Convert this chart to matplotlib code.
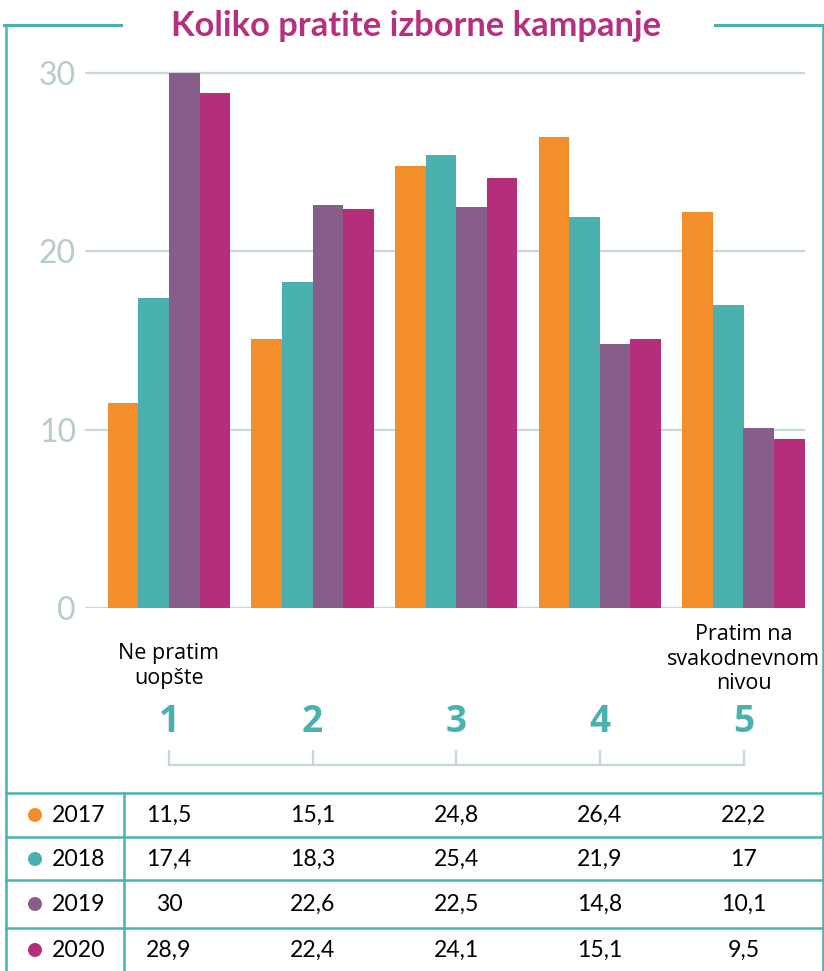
import matplotlib
matplotlib.use("Agg")
import matplotlib.pyplot as plt
import numpy as np
from matplotlib.lines import Line2D
from matplotlib.patches import Ellipse
from matplotlib.transforms import blended_transform_factory

# ---------------- data ----------------
title = "Koliko pratite izborne kampanje"
categories = ["1", "2", "3", "4", "5"]
cat_labels = ["Ne pratim\nuopšte", "", "", "", "Pratim na\nsvakodnevnom\nnivou"]
years = ["2017", "2018", "2019", "2020"]
v2017 = [11.5, 15.1, 24.8, 26.4, 22.2]
v2018 = [17.4, 18.3, 25.4, 21.9, 17]
v2019 = [30, 22.6, 22.5, 14.8, 10.1]
v2020 = [28.9, 22.4, 24.1, 15.1, 9.5]
yticks = [0, 10, 20, 30]

series = [v2017, v2018, v2019, v2020]
colors = ["#F38F2B", "#4AB1AE", "#875E8A", "#B52E7B"]
TEAL = "#4AB1AE"
GRID = "#C6D9D6"
TICKC = "#B5CDC8"
TITLEC = "#B7307F"

W, H = 824, 971
fig = plt.figure(figsize=(W / 100, H / 100), dpi=100)

def fx(x):
    return x / W

def fy(y):
    return 1 - y / H

def px2pt(p):
    return p * 0.72

LATO = ["Lato", "DejaVu Sans"]
OPEN = ["Open Sans", "DejaVu Sans"]

# ---------------- main axes ----------------
ax_l, ax_r, ax_b, ax_t = 85, 805, 608, 40
ax = fig.add_axes([fx(ax_l), fy(ax_b), fx(ax_r - ax_l), (ax_b - ax_t) / H])
ax.patch.set_alpha(0)
unit = (608 - 73) / 30.0
ax.set_ylim(0, (ax_b - ax_t) / unit)
spacing = (743.5 - 169) / 4
ax.set_xlim(-(169 - ax_l) / spacing, 4 + (ax_r - 743.5) / spacing)

x = np.arange(len(categories))
bw = 30.6 / spacing
for i, (vals, c) in enumerate(zip(series, colors)):
    ax.bar(x + (i - 1.5) * bw, vals, width=bw, color=c, zorder=3, linewidth=0)

ax.set_yticks(yticks)
ax.set_yticklabels([str(t) for t in yticks], fontsize=px2pt(32), color=TICKC,
                   family=LATO)
ax.tick_params(axis="y", length=0, pad=px2pt(9))
ax.set_xticks([])
ax.yaxis.grid(True, color=GRID, linewidth=1.6, zorder=0)
for s in ax.spines.values():
    s.set_visible(False)

bt = blended_transform_factory(ax.transData, fig.transFigure)

# category descriptive labels
ax.text(0, fy(666), cat_labels[0], transform=bt, ha="center", va="center",
        fontsize=px2pt(21.5), family=OPEN, linespacing=1.2)
ax.text(4, fy(659), cat_labels[4], transform=bt, ha="center", va="center",
        fontsize=px2pt(21.5), family=OPEN, linespacing=1.2)

# big numbers
for xi, c in zip(x, categories):
    ax.text(xi, fy(722), c, transform=bt, ha="center", va="center",
            fontsize=px2pt(37), color=TEAL, fontweight="bold", family=OPEN)

# bracket scale
fig.add_artist(Line2D([0, 4], [fy(765), fy(765)], transform=bt, color=GRID, lw=1.6))
for xi in x:
    fig.add_artist(Line2D([xi, xi], [fy(751), fy(765)], transform=bt, color=GRID, lw=1.6))

# ---------------- frame ----------------
fl = 1.8
fig.add_artist(Line2D([fx(6), fx(6)], [fy(25), 0], transform=fig.transFigure, color=TEAL, lw=fl))
fig.add_artist(Line2D([fx(822.5), fx(822.5)], [fy(25), 0], transform=fig.transFigure, color=TEAL, lw=fl))
fig.add_artist(Line2D([fx(4), fx(121)], [fy(25.5), fy(25.5)], transform=fig.transFigure, color=TEAL, lw=2.2))
fig.add_artist(Line2D([fx(715), 1], [fy(25.5), fy(25.5)], transform=fig.transFigure, color=TEAL, lw=2.2))

fig.text(fx(416), fy(36), title, ha="center", va="baseline", color=TITLEC,
         fontsize=px2pt(34.5), fontweight="bold", family=LATO)

# ---------------- table ----------------
for yy in [793, 837, 880, 928]:
    fig.add_artist(Line2D([fx(6), fx(822.5)], [fy(yy), fy(yy)], transform=fig.transFigure,
                          color=TEAL, lw=fl))
fig.add_artist(Line2D([fx(124), fx(124)], [fy(793), 0], transform=fig.transFigure, color=TEAL, lw=fl))

row_y = [815, 859, 904, 950]
for ry, yr, vals, c in zip(row_y, years, series, colors):
    fig.add_artist(Ellipse((fx(35), fy(ry)), 14 / W, 14 / H, transform=fig.transFigure,
                           color=c, lw=0))
    fig.text(fx(52), fy(ry), yr, ha="left", va="center", fontsize=px2pt(23), family=LATO)
    for xi, v in zip(x, vals):
        ax.text(xi, fy(ry), f"{v:g}".replace(".", ","), transform=bt, ha="center",
                va="center", fontsize=px2pt(23), family=LATO)

fig.savefig("out.png", dpi=100)
